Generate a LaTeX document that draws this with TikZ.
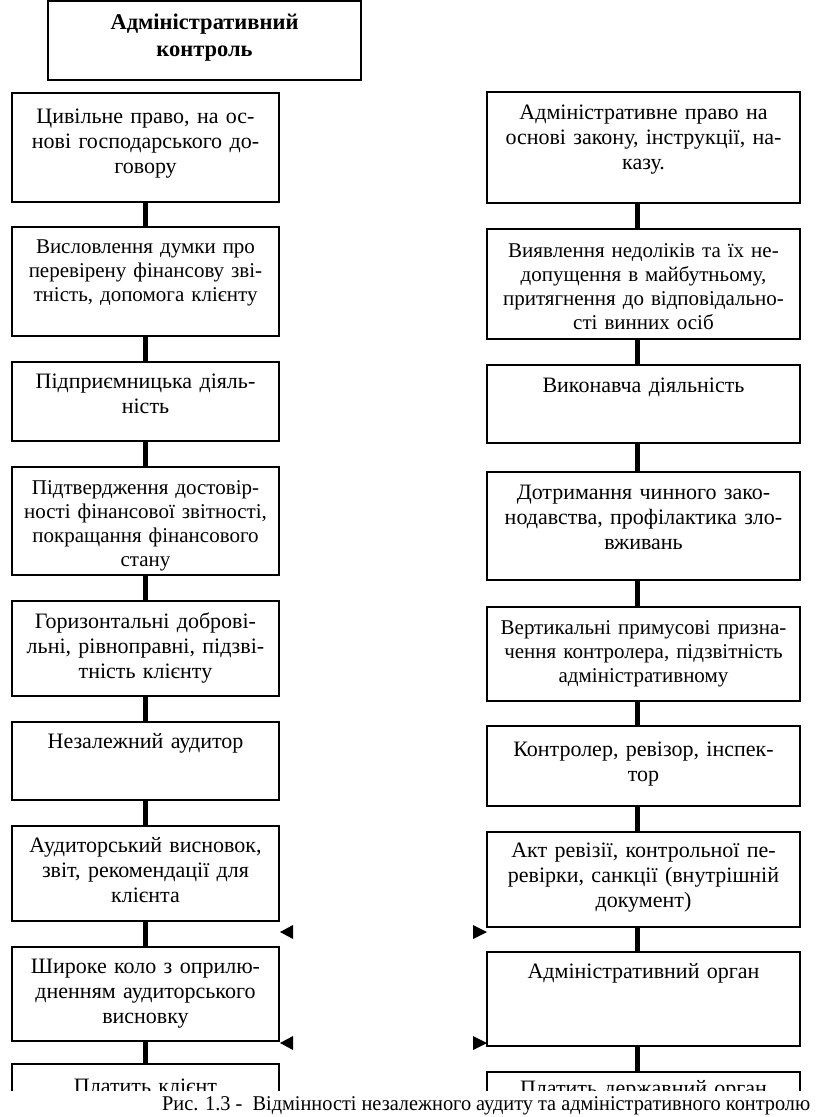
\documentclass[tikz,border=0pt]{standalone}
\usepackage{fontspec}
\setmainfont{Liberation Serif}
\usepackage{graphicx}
\begin{document}
\begin{tikzpicture}[x=1pt,y=-1pt,
  lbox/.style={draw, line width=1.4pt, inner sep=0pt, minimum width=267pt},
  rbox/.style={draw, line width=1.4pt, inner sep=0pt, minimum width=313pt},
  txt/.style={anchor=base, inner sep=0pt, text width=340pt, align=center, font=\fontsize{22}{25}\selectfont},
  smalltxt/.style={font=\fontsize{21}{24}\selectfont},
  conn/.style={line width=5pt},
  tri/.style={fill=black}]
\useasboundingbox (0,0) rectangle (816,1117);
\begin{scope}
\clip (0,0) rectangle (816,1090);
% title
\node[rbox, minimum height=79pt] (T) at (204.5,40.5) {};
\node[txt, font=\bfseries\fontsize{22.5}{27}\selectfont] (Tt) at (204.5,29) {Адміністративний\\контроль};
% left column
\node[lbox, minimum height=109pt] (L1) at (145.5,147.5) {};
\node[lbox, minimum height=109pt] (L2) at (145.5,281.5) {};
\node[lbox, minimum height=79pt]  (L3) at (145.5,401.5) {};
\node[lbox, minimum height=108pt] (L4) at (145.5,521) {};
\node[lbox, minimum height=95pt]  (L5) at (145.5,648.5) {};
\node[lbox, minimum height=78pt]  (L6) at (145.5,761) {};
\node[lbox, minimum height=95pt]  (L7) at (145.5,873.5) {};
\node[lbox, minimum height=94pt]  (L8) at (145.5,994) {};
\node[lbox, minimum height=96pt]  (L9) at (145.5,1112) {};
\node[txt] (L1t) at (145.5,123) {Цивільне право, на ос-\\нові господарського до-\\говору};
\node[txt, smalltxt] (L2t) at (145.5,253) {Висловлення думки про\\перевірену фінансову зві-\\тність, допомога клієнту};
\node[txt] (L3t) at (145.5,388) {Підприємницька діяль-\\ність};
\node[txt, smalltxt] (L4t) at (145.5,494) {Підтвердження достовір-\\ності фінансової звітності,\\покращання фінансового\\стану};
\node[txt] (L5t) at (145.5,628) {Горизонтальні доброві-\\льні, рівноправні, підзві-\\тність клієнту};
\node[txt] (L6t) at (145.5,748) {Незалежний аудитор};
\node[txt] (L7t) at (145.5,852) {Аудиторський висновок,\\звіт, рекомендації для\\клієнта};
\node[txt] (L8t) at (145.5,973) {Широке коло з оприлю-\\дненням аудиторського\\висновку};
\node[txt] (L9t) at (145.5,1093) {Платить клієнт};
% right column
\node[rbox, minimum height=111pt] (R1) at (643.5,147.5) {};
\node[rbox, minimum height=110pt] (R2) at (643.5,284) {};
\node[rbox, minimum height=78pt]  (R3) at (643.5,404) {};
\node[rbox, minimum height=108pt] (R4) at (643.5,526) {};
\node[rbox, minimum height=94pt]  (R5) at (643.5,654) {};
\node[rbox, minimum height=80pt]  (R6) at (643.5,766) {};
\node[rbox, minimum height=95pt]  (R7) at (643.5,879.5) {};
\node[rbox, minimum height=94pt]  (R8) at (643.5,999) {};
\node[rbox, minimum height=98pt]  (R9) at (643.5,1121) {};
\node[txt] (R1t) at (643.5,119) {Адміністративне право на\\основі закону, інструкції, на-\\казу.};
\node[txt, smalltxt] (R2t) at (643.5,257) {Виявлення недоліків та їх не-\\допущення в майбутньому,\\притягнення до відповідально-\\сті винних осіб};
\node[txt] (R3t) at (643.5,392) {Виконавча діяльність};
\node[txt] (R4t) at (643.5,499) {Дотримання чинного зако-\\нодавства, профілактика зло-\\вживань};
\node[txt, smalltxt] (R5t) at (643.5,634) {Вертикальні примусові призна-\\чення контролера, підзвітність\\адміністративному};
\node[txt] (R6t) at (643.5,756) {Контролер, ревізор, інспек-\\тор};
\node[txt] (R7t) at (643.5,857) {Акт ревізії, контрольної пе-\\ревірки, санкції (внутрішній\\документ)};
\node[txt] (R8t) at (643.5,978) {Адміністративний орган};
\node[txt] (R9t) at (643.5,1095) {Платить державний орган};
% connectors
\coordinate (rx) at (637,0);
\foreach \a/\b in {L1/L2,L2/L3,L3/L4,L4/L5,L5/L6,L6/L7,L7/L8,L8/L9}
  \draw[conn] (\a.south) -- (\b.north);
\foreach \a/\b in {R1/R2,R2/R3,R3/R4,R4/R5,R5/R6,R6/R7,R7/R8,R8/R9}
  \draw[conn] (\a.south -| rx) -- (\b.north -| rx);
% arrowheads
\coordinate (la1) at (280,932);
\coordinate (la2) at (280,1043);
\coordinate (ra1) at (487,932);
\coordinate (ra2) at (487,1043);
\fill[tri] (la1) -- ++(13,-7) -- ++(0,14) -- cycle;
\fill[tri] (la2) -- ++(13,-7) -- ++(0,14) -- cycle;
\fill[tri] (ra1) -- ++(-14,-7) -- ++(0,14) -- cycle;
\fill[tri] (ra2) -- ++(-14,-7) -- ++(0,14) -- cycle;
\end{scope}
% caption
\node[anchor=base west, inner sep=0pt] (cap) at (162,1110) {\resizebox{648pt}{\height}{\fontsize{21}{25}\selectfont Рис. 1.3 -\ \ Відмінності незалежного аудиту та адміністративного контролю}};
\end{tikzpicture}
\end{document}
